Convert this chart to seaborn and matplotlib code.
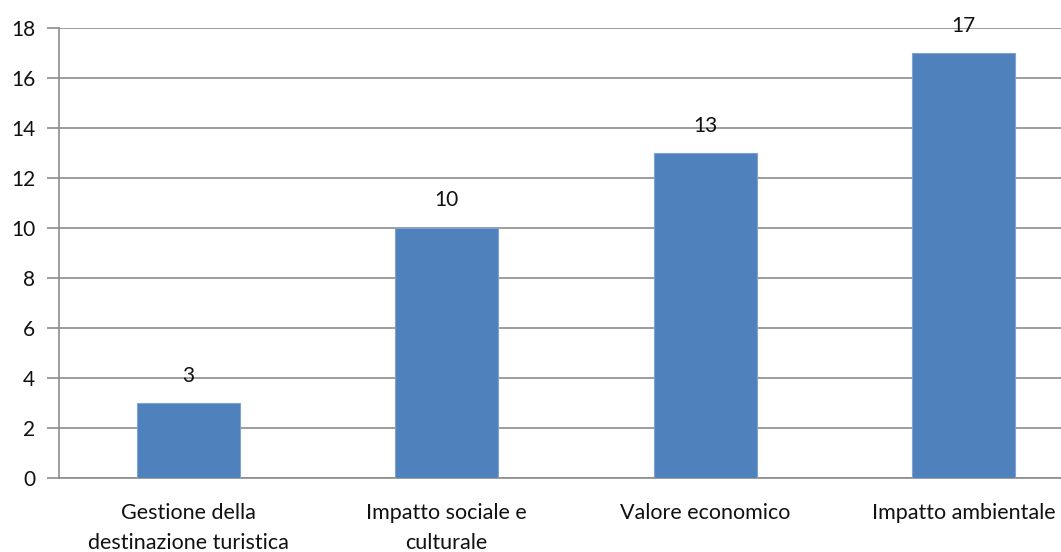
import numpy as np
import pandas as pd
import matplotlib.pyplot as plt
import seaborn as sns

# Data
categories = ['Gestione della\ndestinazione turistica', 'Impatto sociale e\nculturale',
              'Valore economico', 'Impatto ambientale']
values = [3, 10, 13, 17]

df = pd.DataFrame({'categoria': categories, 'valore': values})

sns.set_style('white')
plt.rcParams['font.family'] = ['Lato', 'DejaVu Sans']

fig = plt.figure(figsize=(10.61, 5.52), dpi=100)
# axes runs past the right edge like in the original
ax = fig.add_axes([59 / 1061, 74 / 552, 1034 / 1061, 450 / 552])

sns.barplot(x='categoria', y='valore', data=df, color='#4F81BD', width=0.4,
            saturation=1, edgecolor='#7FA3D0', linewidth=0.8, ax=ax, zorder=3)

ax.set_ylim(0, 18)
ax.set_xlim(-0.5, len(categories) - 0.5)
ax.set_yticks(np.arange(0, 19, 2))
ax.yaxis.grid(True, color='#8C8C8C', linewidth=1.2, zorder=0)
ax.set_axisbelow(True)

# value labels
for i, v in enumerate(values):
    ax.text(i, v + 1.1, str(v), ha='center', va='center', fontsize=15, color='#111111')

# category ticks at boundaries, labels at centres
ax.set_xticks(np.arange(len(categories)))
ax.set_xticklabels(categories, fontsize=15.5, color='#111111', linespacing=1.6)
ax.set_xticks(np.arange(-0.5, len(categories), 1), minor=True)
ax.tick_params(axis='x', which='major', length=0, pad=18)
ax.tick_params(axis='x', which='minor', length=9, width=1.2, color='#8C8C8C', direction='out')
ax.tick_params(axis='y', length=9, width=1.2, color='#8C8C8C', direction='out',
               labelsize=15, labelcolor='#111111', pad=8, left=True)

for s in ['top', 'right']:
    ax.spines[s].set_visible(False)
for s in ['left', 'bottom']:
    ax.spines[s].set_color('#8C8C8C')
    ax.spines[s].set_linewidth(1.2)

ax.set_xlabel('')
ax.set_ylabel('')

fig.savefig('out.png', dpi=100)
